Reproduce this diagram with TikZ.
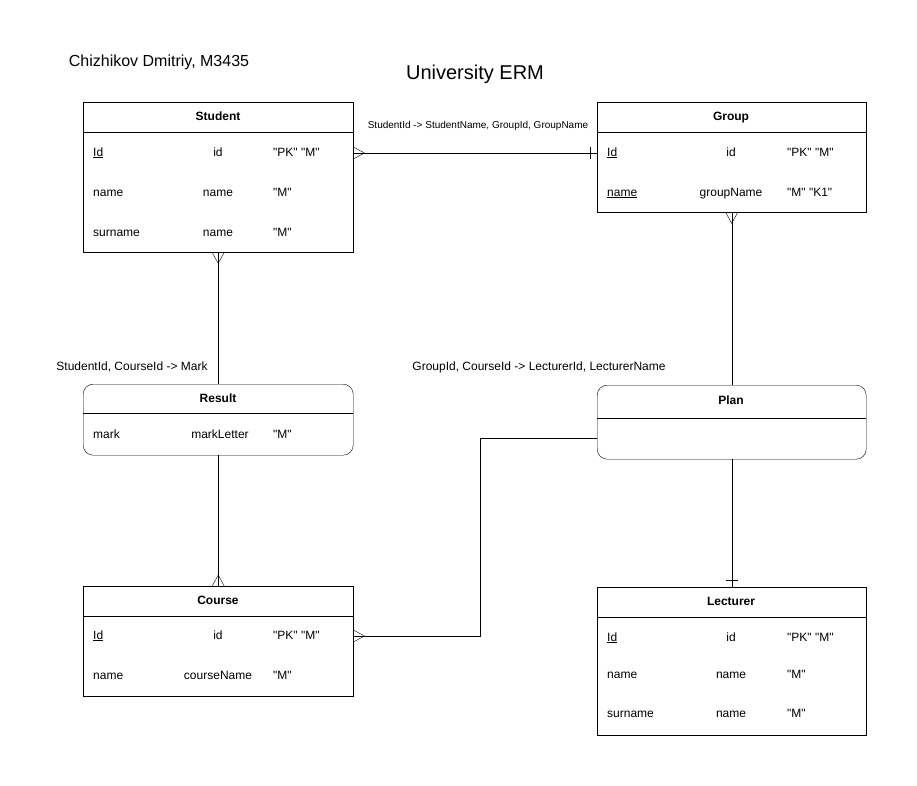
\documentclass[tikz,border=0pt]{standalone}
\usepackage{fontspec}
\setmainfont{Liberation Sans}[Ligatures=TeXOff]
\usetikzlibrary{positioning,calc}

\begin{document}
\begin{tikzpicture}[x=1pt,y=-1pt,
    entity/.style={draw,anchor=north west,inner sep=0,minimum width=270pt},
    rentity/.style={entity,rounded corners=10pt},
    head/.style={font=\fontsize{12}{14}\selectfont\bfseries,text height=8.6pt,text depth=2.5pt},
    cell/.style={font=\fontsize{12}{14}\selectfont,inner sep=0,text height=8.6pt,text depth=2.5pt},
    cellc/.style={cell},
    celll/.style={cell,anchor=west},
    fdep/.style={font=\fontsize{12}{14}\selectfont},
    many/.pic={\draw (0,-6) -- (11,0) -- (0,6);},
    one/.pic={\draw (7,-6) -- (7,6);}]
            \useasboundingbox (0,0) rectangle (917,786);

            % titles
            \node[font=\fontsize{16}{19}\selectfont] (author) at (159,62) {Chizhikov Dmitriy, M3435};
            \node[font=\fontsize{20}{24}\selectfont] (title) at (475,74) {University ERM};

            % Student
            \node[entity,minimum height=150pt] (student) at (83,102) {};
            \draw ([yshift=-30pt]student.north west) -- ([yshift=-30pt]student.north east);
            \node[head] (sthead) at (218,117) {Student};
            \node[celll] (sid) at (93,153) {\underline{Id}};
            \node[cellc] at (218,153) {id};
            \node[celll] at (273,153) {"PK" "M"};
            \node[celll] (sname) at (93,193) {name};
            \node[cellc] at (218,193) {name};
            \node[celll] at (273,193) {"M"};
            \node[celll] (ssur) at (93,233) {surname};
            \node[cellc] at (218,233) {name};
            \node[celll] at (273,233) {"M"};

            % Group
            \node[entity,minimum width=269pt,minimum height=110pt] (group) at (597,102) {};
            \draw ([yshift=-30pt]group.north west) -- ([yshift=-30pt]group.north east);
            \node[head] (grhead) at (731,117) {Group};
            \node[celll] (gid) at (607,153) {\underline{Id}};
            \node[cellc] at (731,153) {id};
            \node[celll] at (787,153) {"PK" "M"};
            \node[celll] (gname) at (607,193) {\underline{name}};
            \node[cellc] at (731,193) {groupName};
            \node[celll] at (787,193) {"M" "K1"};

            % Result
            \node[rentity,minimum height=71pt] (result) at (83,384) {};
            \draw ([yshift=-29pt]result.north west) -- ([yshift=-29pt]result.north east);
            \node[head] (rhead) at (218,399) {Result};
            \node[celll] (rmark) at (93,435) {mark};
            \node[cellc] at (220,435) {markLetter};
            \node[celll] at (273,435) {"M"};

            % Plan
            \node[rentity,minimum width=269pt,minimum height=74pt] (plan) at (597,385) {};
            \draw ([yshift=-33pt]plan.north west) -- ([yshift=-33pt]plan.north east);
            \node[head] (phead) at (731,401) {Plan};
            \coordinate (pbody) at (731,438);

            % Course
            \node[entity,minimum height=110pt] (course) at (83,586) {};
            \draw ([yshift=-30pt]course.north west) -- ([yshift=-30pt]course.north east);
            \node[head] (chead) at (218,601) {Course};
            \node[celll] (cid) at (93,636) {\underline{Id}};
            \node[cellc] at (218,636) {id};
            \node[celll] at (273,636) {"PK" "M"};
            \node[celll] (cname) at (93,676) {name};
            \node[cellc] at (218,676) {courseName};
            \node[celll] at (273,676) {"M"};

            % Lecturer
            \node[entity,minimum width=269pt,minimum height=148pt] (lecturer) at (597,587) {};
            \draw ([yshift=-30pt]lecturer.north west) -- ([yshift=-30pt]lecturer.north east);
            \node[head] (lhead) at (731,602) {Lecturer};
            \node[celll] (lid) at (607,638) {\underline{Id}};
            \node[cellc] at (731,638) {id};
            \node[celll] at (787,638) {"PK" "M"};
            \node[celll] (lname) at (607,675) {name};
            \node[cellc] at (731,675) {name};
            \node[celll] at (787,675) {"M"};
            \node[celll] (lsur) at (607,714) {surname};
            \node[cellc] at (731,714) {name};
            \node[celll] at (787,714) {"M"};

            % relations
            \draw (student.east |- sid) -- (group.west |- gid);
            \pic at (student.east |- sid) {many};
            \pic[rotate=180] at (group.west |- gid) {one};
            \node[font=\fontsize{10}{12}\selectfont] (fdsg) at (478,126) {StudentId -> StudentName, GroupId, GroupName};

            \draw (student.south) -- (result.north);
            \pic[rotate=-90] at (student.south) {many};
            \node[fdep] (fdres) at (132,367) {StudentId, CourseId -> Mark};

            \draw (result.south) -- (course.north);
            \pic[rotate=90] at (course.north) {many};

            \draw (group.south) -- (plan.north);
            \pic[rotate=-90] at (group.south) {many};
            \node[fdep] (fdplan) at (539,367) {GroupId, CourseId -> LecturerId, LecturerName};

            \draw (plan.south) -- (lecturer.north);
            \pic[rotate=90] at (lecturer.north) {one};

            \coordinate (bend) at (480,438);
            \draw (plan.west |- pbody) -- (bend) |- (course.east |- cid);
            \pic at (course.east |- cid) {many};
        \end{tikzpicture}
\end{document}
